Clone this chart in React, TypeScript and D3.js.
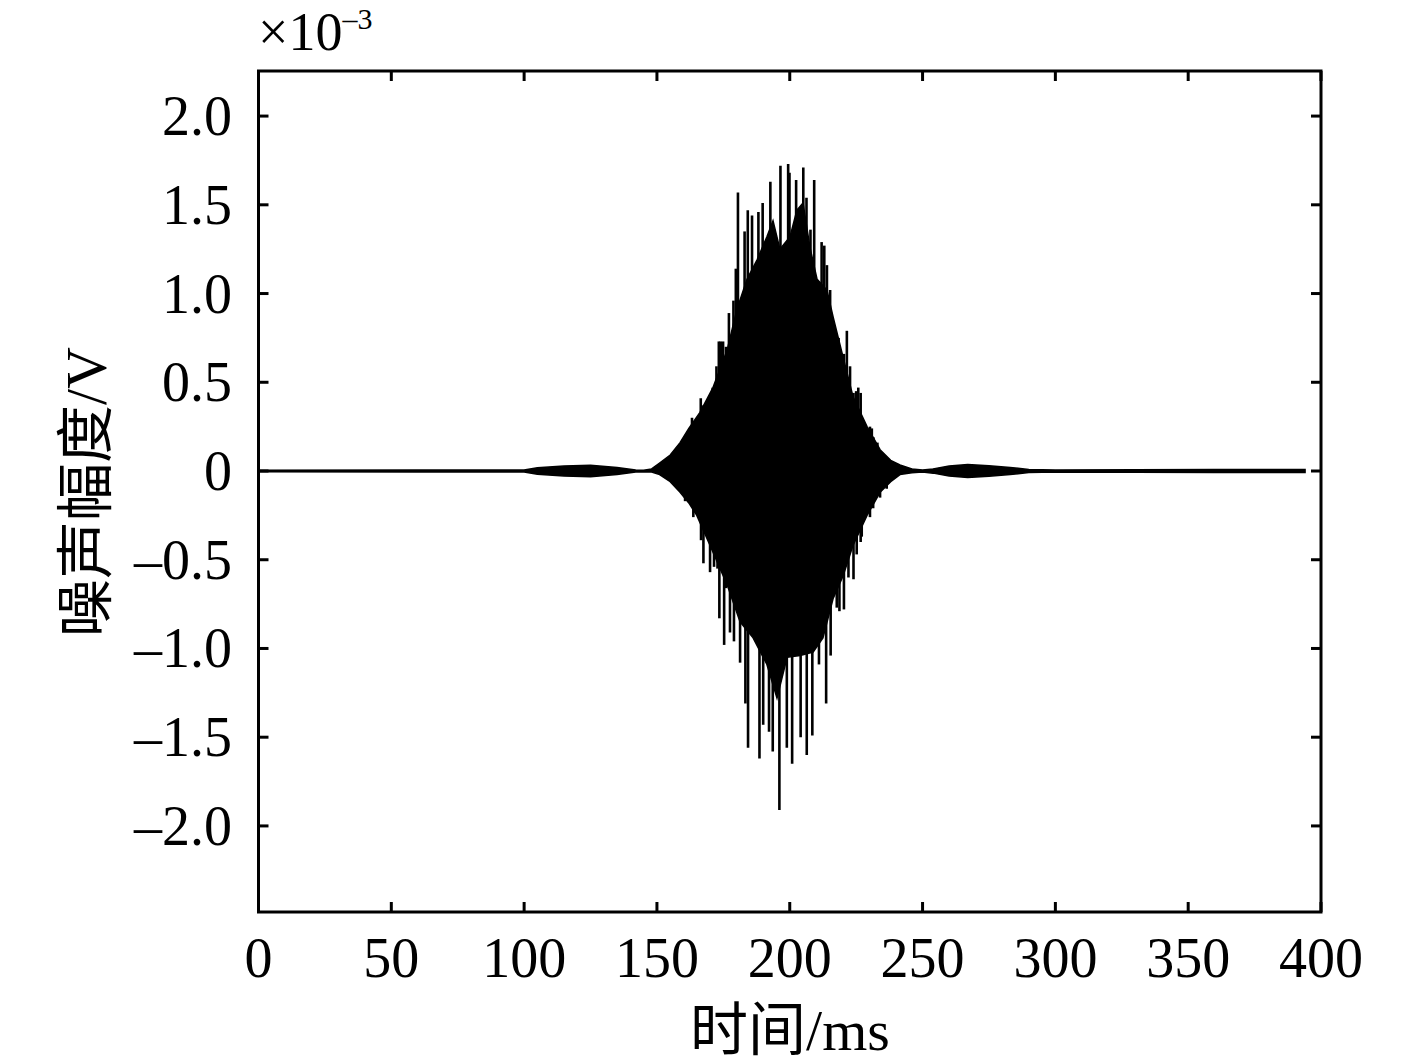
import React, { useEffect, useRef } from "react";
import * as d3 from "d3";

// envelope of the dense oscillation (time in ms, amplitude in 1e-3 V)
const upperTime = [0, 60, 100, 105, 115, 125, 135, 142, 145, 148, 151, 155, 158.7, 162, 166.2, 171.1, 176.4, 180.1, 183.9, 187.7, 191.4, 193.7, 196.3, 200.1, 202.7, 205, 207.6, 210.3, 214, 216.3, 220.1, 223.8, 229.1, 234, 238, 241.5, 246, 250, 254, 260, 267, 275, 283, 290, 300, 330, 360, 394];
const upperVal = [0.004, 0.005, 0.006, 0.018, 0.028, 0.032, 0.02, 0.005, 0.004, 0.012, 0.045, 0.09, 0.16, 0.24, 0.33, 0.47, 0.68, 0.91, 1.08, 1.19, 1.32, 1.41, 1.25, 1.32, 1.47, 1.51, 1.26, 1.08, 1.02, 0.87, 0.64, 0.42, 0.25, 0.12, 0.06, 0.034, 0.012, 0.005, 0.012, 0.028, 0.036, 0.03, 0.02, 0.008, 0.005, 0.007, 0.008, 0.008];

const lowerTime = [0, 60, 100, 105, 115, 125, 135, 142, 145, 148, 151, 155, 158.7, 162, 165, 170, 176.4, 181.3, 186.2, 191.4, 195.2, 199, 203.9, 208.8, 212.5, 216.3, 220.1, 223.8, 229.1, 234, 238, 241.5, 246, 250, 254, 260, 267, 275, 283, 290, 300, 330, 360, 394];
const lowerVal = [-0.004, -0.005, -0.006, -0.018, -0.028, -0.032, -0.02, -0.005, -0.004, -0.006, -0.02, -0.06, -0.12, -0.18, -0.25, -0.42, -0.64, -0.85, -0.94, -1.09, -1.28, -1.05, -1.04, -1.02, -0.94, -0.72, -0.59, -0.42, -0.25, -0.12, -0.06, -0.02, -0.01, -0.005, -0.012, -0.028, -0.036, -0.03, -0.02, -0.008, -0.005, -0.007, -0.008, -0.008];

// individual peaks sticking out of the envelope
const spikeUpTime = [158.9, 161.2, 163.2, 164.3, 166.5, 167.5, 169.4, 171.0, 172.4, 173.3, 174, 174.9, 176.0, 177.1, 178.8, 179.7, 180.5, 183, 184.2, 185.8, 188.2, 189.8, 192.7, 196.5, 199.4, 199.9, 202.4, 205.1, 206.3, 207.8, 209.2, 212, 213, 214, 215.2, 218.4, 219.6, 220.4, 221.5, 222.7, 224.0, 225.0, 225.8, 226.7, 228.0, 230.2, 230.9, 231.5, 233.0];
const spikeUpVal = [0.15, 0.19, 0.3, 0.28, 0.41, 0.37, 0.39, 0.47, 0.59, 0.73, 0.73, 0.73, 0.7, 0.89, 0.96, 1.14, 1.57, 1.35, 1.47, 1.44, 1.46, 1.51, 1.63, 1.72, 1.73, 1.68, 1.64, 1.71, 1.54, 1.36, 1.64, 1.29, 1.27, 1.16, 1.02, 0.75, 0.66, 0.66, 0.79, 0.59, 0.44, 0.45, 0.47, 0.44, 0.27, 0.25, 0.24, 0.19, 0.16];

const spikeDownTime = [160.6, 163.7, 166.6, 167.5, 170, 171.5, 172.8, 173.5, 175.3, 176, 177.5, 179, 180.3, 181.3, 183.3, 184.3, 188.6, 190, 192.2, 193.6, 196.1, 198.9, 200.9, 204.1, 206.4, 208.5, 211, 213.7, 214.5, 215.4, 217.7, 218.7, 220.4, 222.1, 224, 225.2, 226.7, 227.1, 230.2, 231.4, 234, 236.5];
const spikeDownVal = [-0.17, -0.26, -0.39, -0.52, -0.57, -0.54, -0.55, -0.83, -0.98, -0.66, -0.91, -0.96, -0.74, -1.08, -1.31, -1.56, -1.62, -1.43, -1.47, -1.58, -1.91, -1.56, -1.65, -1.5, -1.6, -1.49, -1.09, -1.31, -0.72, -1.04, -0.77, -0.79, -0.78, -0.6, -0.61, -0.47, -0.4, -0.37, -0.26, -0.21, -0.15, -0.1];

const xTicks = [0, 50, 100, 150, 200, 250, 300, 350, 400];
const yTicks = [2.0, 1.5, 1.0, 0.5, 0, -0.5, -1.0, -1.5, -2.0];
const yTickLabels = ["2.0", "1.5", "1.0", "0.5", "0", "–0.5", "–1.0", "–1.5", "–2.0"];

const FONT = "'Liberation Serif', 'Times New Roman', 'Noto Sans CJK SC', serif";

export default function App() {
    const svgRef = useRef<SVGSVGElement>(null);

    useEffect(() => {
        const svg = d3.select(svgRef.current);
        const width = 1417;
        const height = 1063;
        const margin = { top: 71, right: 96, bottom: 151, left: 258.5 };

        svg.attr("width", width).attr("height", height);
        svg.selectAll("*").remove();

        const x = d3.scaleLinear().domain([0, 400]).range([margin.left, width - margin.right]);
        const y = d3.scaleLinear().domain([-2.485, 2.254]).range([height - margin.bottom, margin.top]);

        const upper = upperTime.map((t, i) => [t, upperVal[i]]);
        const lower = lowerTime.map((t, i) => [t, lowerVal[i]]);

        const line = d3
            .line<number[]>()
            .x((d) => x(d[0]))
            .y((d) => y(d[1]));

        // signal body
        svg
            .append("path")
            .attr("d", line(upper.concat(lower.slice().reverse())) + "Z")
            .attr("fill", "#000")
            .attr("stroke", "#000")
            .attr("stroke-width", 1.5);

        // zero line of the trace
        svg
            .append("line")
            .attr("x1", x(0))
            .attr("x2", x(394))
            .attr("y1", y(0))
            .attr("y2", y(0))
            .attr("stroke", "#000")
            .attr("stroke-width", 2);

        // spikes
        const spikes = spikeUpTime
            .map((t, i) => [t, spikeUpVal[i]])
            .concat(spikeDownTime.map((t, i) => [t, spikeDownVal[i]]));
        svg
            .append("g")
            .selectAll("line")
            .data(spikes)
            .join("line")
            .attr("x1", (d) => x(d[0]))
            .attr("x2", (d) => x(d[0]))
            .attr("y1", y(0))
            .attr("y2", (d) => y(d[1]))
            .attr("stroke", "#000")
            .attr("stroke-width", 2.6);

        // frame
        const x0 = x(0), x1 = x(400), yTop = margin.top, yBot = height - margin.bottom;
        svg
            .append("rect")
            .attr("x", x0)
            .attr("y", yTop)
            .attr("width", x1 - x0)
            .attr("height", yBot - yTop)
            .attr("fill", "none")
            .attr("stroke", "#000")
            .attr("stroke-width", 3);

        const tickLen = 10;
        // x ticks, bottom and top, inward
        const gx = svg.append("g");
        xTicks.forEach((t) => {
            gx.append("line").attr("x1", x(t)).attr("x2", x(t)).attr("y1", yBot).attr("y2", yBot - tickLen).attr("stroke", "#000").attr("stroke-width", 3);
            gx.append("line").attr("x1", x(t)).attr("x2", x(t)).attr("y1", yTop).attr("y2", yTop + tickLen).attr("stroke", "#000").attr("stroke-width", 3);
            gx.append("text")
                .attr("x", x(t))
                .attr("y", 977)
                .attr("text-anchor", "middle")
                .style("font-family", FONT)
                .style("font-size", "56px")
                .text(String(t));
        });

        // y ticks, left and right, inward
        const gy = svg.append("g");
        yTicks.forEach((v, i) => {
            gy.append("line").attr("x1", x0).attr("x2", x0 + tickLen).attr("y1", y(v)).attr("y2", y(v)).attr("stroke", "#000").attr("stroke-width", 3);
            gy.append("line").attr("x1", x1).attr("x2", x1 - tickLen).attr("y1", y(v)).attr("y2", y(v)).attr("stroke", "#000").attr("stroke-width", 3);
            gy.append("text")
                .attr("x", 232)
                .attr("y", y(v) + 19)
                .attr("text-anchor", "end")
                .style("font-family", FONT)
                .style("font-size", "56px")
                .text(yTickLabels[i]);
        });

        // exponent
        const exp = svg.append("text").attr("x", 258).attr("y", 50).style("font-family", FONT).style("font-size", "54px");
        exp.append("tspan").text("×10");
        exp.append("tspan").attr("dy", -21).style("font-size", "30px").text("–3");

        // axis titles
        svg.append("text")
            .attr("x", 790)
            .attr("y", 1050)
            .attr("text-anchor", "middle")
            .style("font-family", FONT)
            .style("font-size", "58px")
            .text("时间/ms");

        svg.append("text")
            .attr("transform", "translate(106,492) rotate(-90)")
            .attr("text-anchor", "middle")
            .style("font-family", FONT)
            .style("font-size", "58px")
            .text("噪声幅度/V");
    }, []);

    return <svg ref={svgRef} style={{ position: "absolute", left: 0, top: 0, background: "#fff" }}></svg>;
}
